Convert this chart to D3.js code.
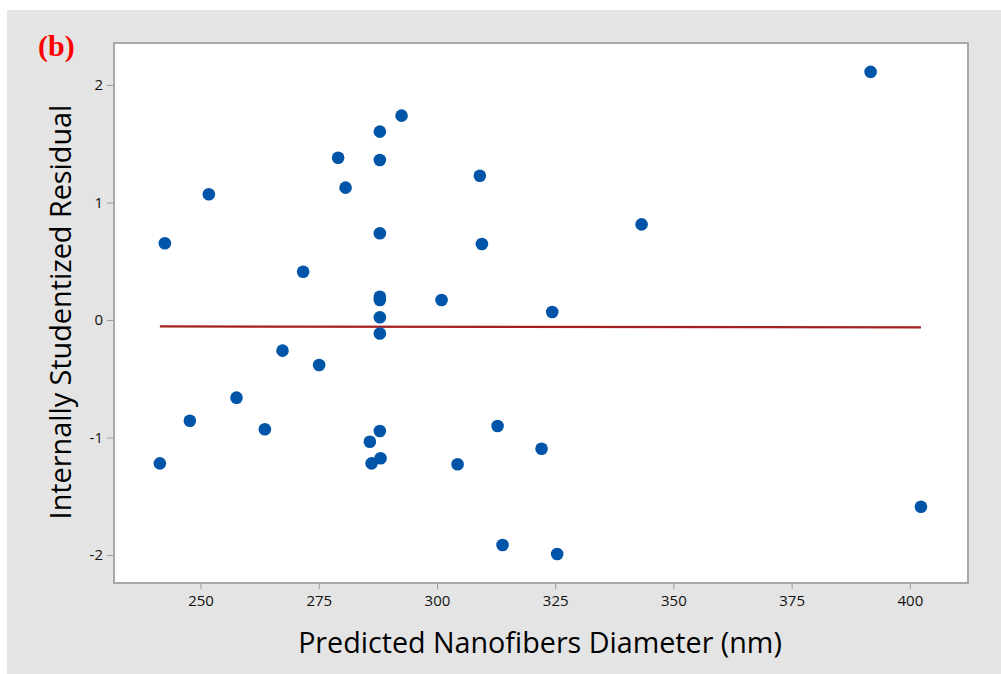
<!DOCTYPE html>
<html>
<head>
<meta charset="utf-8">
<script src="https://cdn.jsdelivr.net/npm/d3@7"></script>
<style>
  body { margin: 0; background: #fff; }
  svg { display: block; }
</style>
</head>
<body>
<svg id="chart" width="1001" height="674"></svg>
<script>
// predicted diameter (nm) vs internally studentized residual
const predicted = [
  241.4, 242.45, 247.74, 251.76, 257.61, 263.6, 267.34, 271.7, 275.08, 279.1,
  280.67, 285.81, 286.17, 287.92, 287.92, 287.92, 287.92, 287.92, 287.92, 287.92,
  287.92, 288.07, 292.51, 300.97, 304.36, 309.07, 309.5, 312.82, 313.87, 322.12,
  324.37, 325.42, 343.27, 391.71, 402.35
];
const residual = [
  -1.22, 0.653, -0.857, 1.07, -0.661, -0.93, -0.261, 0.411, -0.383, 1.381,
  1.126, -1.036, -1.22, 1.603, 1.362, 0.738, 0.198, 0.17, 0.023, -0.115,
  -0.945, -1.177, 1.739, 0.17, -1.228, 1.228, 0.647, -0.902, -1.915, -1.095,
  0.068, -1.991, 0.814, 2.111, -1.589
];
// fitted line end points
const fitX = [241.4, 402.35];
const fitY = [-0.055, -0.062];

const xTicks = [250, 275, 300, 325, 350, 375, 400];
const yTicks = [-2, -1, 0, 1, 2];

const svg = d3.select("#chart");

// grey panel behind everything
svg.append("rect")
  .attr("x", 7).attr("y", 10)
  .attr("width", 994).attr("height", 664)
  .attr("fill", "#e4e4e4");

const plotL = 114, plotR = 968, plotT = 43, plotB = 583;

const x = d3.scaleLinear().domain([231.7, 412.3]).range([plotL, plotR]);
const y = d3.scaleLinear().domain([-2.238, 2.357]).range([plotB, plotT]);

svg.append("rect")
  .attr("x", plotL).attr("y", plotT)
  .attr("width", plotR - plotL).attr("height", plotB - plotT)
  .attr("fill", "#fff")
  .attr("stroke", "#a8a8a8")
  .attr("stroke-width", 2);

const xAxis = svg.append("g")
  .attr("transform", `translate(0,${plotB + 1})`)
  .call(d3.axisBottom(x).tickValues(xTicks).tickSize(5).tickPadding(6));

const yAxis = svg.append("g")
  .attr("transform", `translate(${plotL - 1},0)`)
  .call(d3.axisLeft(y).tickValues(yTicks).tickSize(6).tickPadding(4)
    .tickFormat(d => d < 0 ? "-" + Math.abs(d) : d));

[xAxis, yAxis].forEach(g => {
  g.select(".domain").remove();
  g.selectAll(".tick line").attr("stroke", "#9a9a9a");
  g.selectAll(".tick text")
    .attr("fill", "#111")
    .style("font-family", "'Open Sans', 'Noto Sans', sans-serif")
    .style("font-size", "15px");
});

// fitted line
svg.append("line")
  .attr("x1", x(fitX[0])).attr("y1", y(fitY[0]))
  .attr("x2", x(fitX[1])).attr("y2", y(fitY[1]))
  .attr("stroke", "#a52020")
  .attr("stroke-width", 2.2);

svg.append("g")
  .selectAll("circle")
  .data(predicted)
  .join("circle")
  .attr("cx", d => x(d))
  .attr("cy", (d, i) => y(residual[i]))
  .attr("r", 6.3)
  .attr("fill", "#0055a8");

// axis titles, fitted to the widths seen in the original
function fitText(sel, width) {
  const w = sel.node().getComputedTextLength();
  const fs = parseFloat(sel.style("font-size"));
  sel.style("font-size", (fs * width / w) + "px");
}

const xt = svg.append("text")
  .attr("x", 540).attr("y", 653)
  .attr("text-anchor", "middle")
  .attr("fill", "#000")
  .style("font-family", "'Open Sans', 'Noto Sans', sans-serif")
  .style("font-size", "26px")
  .text("Predicted Nanofibers Diameter (nm)");
fitText(xt, 484);

const yt = svg.append("text")
  .attr("transform", "translate(71,312) rotate(-90)")
  .attr("text-anchor", "middle")
  .attr("fill", "#000")
  .style("font-family", "'Open Sans', 'Noto Sans', sans-serif")
  .style("font-size", "24px")
  .text("Internally Studentized Residual");
fitText(yt, 415);

svg.append("text")
  .attr("x", 38).attr("y", 56)
  .attr("fill", "#ff0000")
  .style("font-family", "'Liberation Serif', 'Times New Roman', serif")
  .style("font-weight", "bold")
  .style("font-size", "30px")
  .text("(b)");
</script>
</body>
</html>
